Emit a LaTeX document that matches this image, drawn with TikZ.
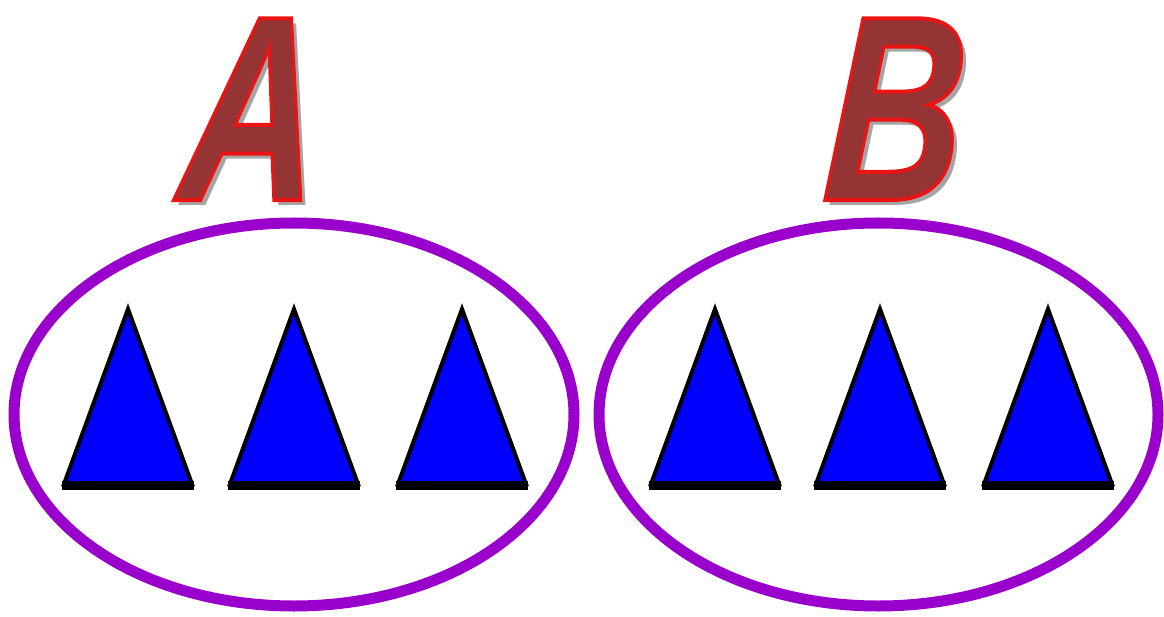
\documentclass[tikz,border=0pt]{standalone}
\usepackage{fontspec}
\setmainfont{Liberation Sans}
\definecolor{ringpurple}{RGB}{153,0,204}
\definecolor{letterfill}{RGB}{148,52,52}
\definecolor{letteredge}{RGB}{235,20,20}
\definecolor{lettershadow}{RGB}{165,165,165}
\definecolor{triblue}{RGB}{0,0,255}
\newcommand{\bigletter}[1]{\scalebox{0.72}[1]{\fontsize{264}{264}\selectfont\bfseries\itshape\rlap{\kern8pt\raisebox{-6pt}{\color{lettershadow}#1}}{\color{letterfill}\special{pdf:code 2 Tr 4 w 0.92 0.08 0.08 RG}#1\special{pdf:code 0 Tr 1 w}}}}
\tikzset{
  ring/.style={draw=ringpurple, line width=11pt},
  trifill/.style={fill=triblue, draw=black, line width=4pt, line join=miter},
  tribase/.style={draw=black, line width=9pt, line cap=butt},
  letter/.style={inner sep=0pt, outer sep=0pt, anchor=base, xslant=0.07, transform shape}
}
\begin{document}
\begin{tikzpicture}[x=1pt, y=-1pt]
\useasboundingbox (0,0) rectangle (1164,617);
\draw[ring] (294,414.5) ellipse [x radius=280, y radius=191.5];
\draw[ring] (878.5,414.5) ellipse [x radius=279.5, y radius=191.5];
\foreach \ax in {128,294,462,715,880,1048}{
  \filldraw[trifill] (\ax-64,484) -- (\ax,309) -- (\ax+64,484) -- cycle;
  \draw[tribase] (\ax-66,485) -- (\ax+66,485);
}
\node[letter] (A) at (246,200) {\bigletter{A}};
\node[letter] (B) at (890,200) {\bigletter{B}};
\end{tikzpicture}
\end{document}
